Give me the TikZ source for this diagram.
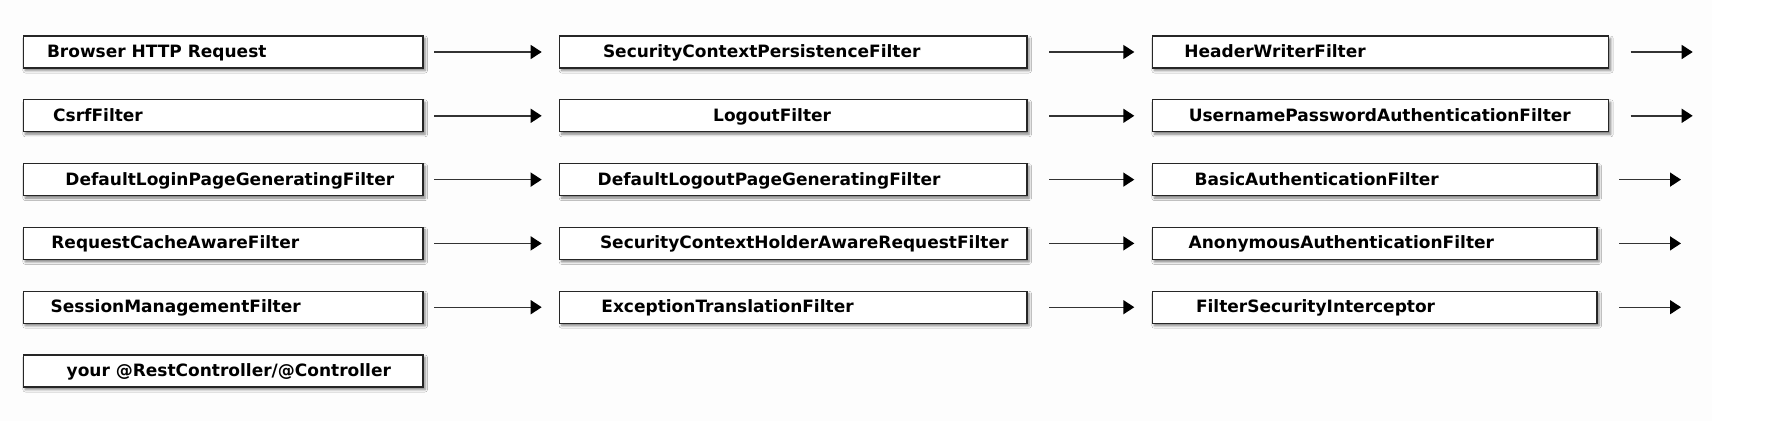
\documentclass[tikz,border=0pt]{standalone}
\usepackage{fontspec}
\setmainfont{DejaVu Sans}
\usetikzlibrary{arrows.meta,shadows.blur}
\begin{document}
\begin{tikzpicture}[x=1pt,y=-1pt,
  filterbox/.style={draw=black!85, line width=1.3pt, fill=white, rectangle, inner sep=0pt, outer sep=0pt,
    minimum height=32pt, anchor=north west,
    blur shadow={shadow xshift=2pt, shadow yshift=-2.5pt, shadow blur radius=2.5pt, shadow opacity=50}},
  colA/.style={filterbox, minimum width=399.7pt},
  colB/.style={filterbox, minimum width=467.3pt},
  colCw/.style={filterbox, minimum width=456.4pt},
  colCn/.style={filterbox, minimum width=444.7pt},
  ftxt/.style={anchor=base west, inner sep=0pt, font=\fontsize{17}{20}\selectfont\bfseries},
  conn/.style={draw=black!80, line width=1.4pt, -{Triangle[length=11pt,width=14pt,color=black]}}
]
\useasboundingbox (0,0) rectangle (1770,432);
\fill[white!99.3!black] (0,0) rectangle (1712,421);

% row 1
\node[colA]  (b11) at (23.3,36) {};
\node[colB]  (b12) at (559.7,36) {};
\node[colCw] (b13) at (1152.3,36) {};
\node[ftxt] (t11) at (46.8,57.5) {Browser HTTP Request};
\node[ftxt] (t12) at (602.8,57.5) {SecurityContextPersistenceFilter};
\node[ftxt] (t13) at (1184.2,57.5) {HeaderWriterFilter};
\coordinate (e1) at (1692.7,52);

% row 2
\node[colA]  (b21) at (23.3,99.8) {};
\node[colB]  (b22) at (559.7,99.8) {};
\node[colCw] (b23) at (1152.3,99.8) {};
\node[ftxt] (t21) at (53,121.3) {CsrfFilter};
\node[ftxt] (t22) at (713,121.3) {LogoutFilter};
\node[ftxt] (t23) at (1188.6,121.3) {UsernamePasswordAuthenticationFilter};
\coordinate (e2) at (1692.7,115.8);

% row 3
\node[colA]  (b31) at (23.3,163.6) {};
\node[colB]  (b32) at (559.7,163.6) {};
\node[colCn] (b33) at (1152.3,163.6) {};
\node[ftxt] (t31) at (65.2,185.1) {DefaultLoginPageGeneratingFilter};
\node[ftxt] (t32) at (597.5,185.1) {DefaultLogoutPageGeneratingFilter};
\node[ftxt] (t33) at (1194.5,185.1) {BasicAuthenticationFilter};
\coordinate (e3) at (1681,179.6);

% row 4
\node[colA]  (b41) at (23.3,227.4) {};
\node[colB]  (b42) at (559.7,227.4) {};
\node[colCn] (b43) at (1152.3,227.4) {};
\node[ftxt] (t41) at (51.2,248.9) {RequestCacheAwareFilter};
\node[ftxt] (t42) at (599.8,248.9) {SecurityContextHolderAwareRequestFilter};
\node[ftxt] (t43) at (1188.4,248.9) {AnonymousAuthenticationFilter};
\coordinate (e4) at (1681,243.4);

% row 5
\node[colA]  (b51) at (23.3,291.2) {};
\node[colB]  (b52) at (559.7,291.2) {};
\node[colCn] (b53) at (1152.3,291.2) {};
\node[ftxt] (t51) at (50.5,312.7) {SessionManagementFilter};
\node[ftxt] (t52) at (601.2,312.7) {ExceptionTranslationFilter};
\node[ftxt] (t53) at (1195.8,312.7) {FilterSecurityInterceptor};
\coordinate (e5) at (1681,307.2);

% row 6
\node[colA]  (b61) at (23.3,355) {};
\node[ftxt] (t61) at (66.5,376.5) {your @RestController/@Controller};

% connectors
\foreach \r in {1,...,5}{
  \draw[conn] ([xshift=11pt]b\r1.east) -- ([xshift=-18pt]b\r2.west);
  \draw[conn] ([xshift=22pt]b\r2.east) -- ([xshift=-18pt]b\r3.west);
  \draw[conn] ([xshift=22pt]b\r3.east) -- (b\r3.east -| e\r);
}
\end{tikzpicture}
\end{document}
